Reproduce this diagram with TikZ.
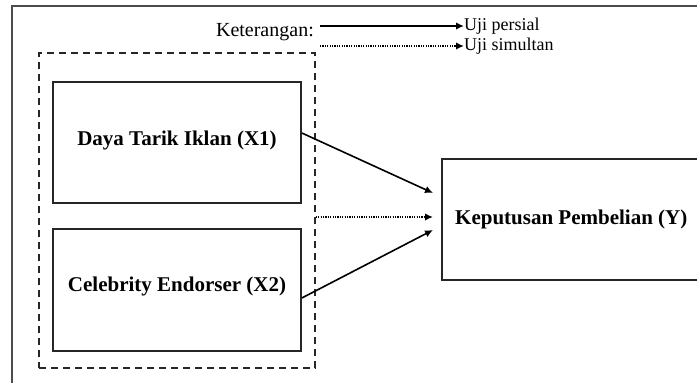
\documentclass[tikz,border=0pt]{standalone}
\usepackage{fontspec}
\setmainfont{Liberation Serif}
\usetikzlibrary{arrows.meta,calc}
\begin{document}
\begin{tikzpicture}[x=1pt,y=-1pt,
  box/.style={draw=black!85,line width=1.7pt,rectangle,inner sep=0pt},
  grpbox/.style={draw=black!85,line width=1.7pt,dash pattern=on 7pt off 5pt,rectangle,inner sep=0pt},
  lbl/.style={font=\fontsize{21}{25}\selectfont\bfseries,inner sep=0pt},
  leg/.style={font=\fontsize{20}{23}\selectfont,inner sep=0pt},
  legs/.style={font=\fontsize{18}{21}\selectfont,inner sep=0pt},
  arr/.style={line width=1.6pt,-{Latex[length=8pt,width=7.5pt]}},
  dotarr/.style={line width=1.6pt,dash pattern=on 1.2pt off 1.2pt,-{Latex[length=8pt,width=7.5pt]}}]
\clip (0,0) rectangle (697,383);
\fill[white] (0,0) rectangle (697,383);
% outer frame (extends beyond picture)
\draw[line width=1.8pt,black!70] (12,400) -- (12,6) -- (720,6);
% legend
\node[leg,anchor=base east] (ket) at (314,36) {Keterangan:};
\coordinate (ls1) at (320,26);
\coordinate (ls2) at (320,46);
\node[legs,anchor=base west] (up) at (464,30) {Uji persial};
\node[legs,anchor=base west] (us) at (464,50) {Uji simultan};
\draw[arr] (ls1) -- (ls1 -| up.west);
\draw[dotarr] (ls2) -- (ls2 -| us.west);
% group box
\node[grpbox,minimum width=276pt,minimum height=315pt] (grp) at (177,210.5) {};
% variable boxes
\node[box,minimum width=248pt,minimum height=121pt] (x1) at (177,142.5) {};
\node[lbl] (x1t) at (177,140) {Daya Tarik Iklan (X1)};
\node[box,minimum width=248pt,minimum height=122pt] (x2) at (177,290) {};
\node[lbl] (x2t) at (177,286) {Celebrity Endorser (X2)};
\node[box,minimum width=290pt,minimum height=121pt,anchor=west] (y) at (441,219.5) {};
\node[lbl,anchor=west] (yt) at (455,219) {Keputusan Pembelian (Y)};
% connectors
\draw[arr] ($(x1.east)+(0,-9.5)$) -- ($(y.west)+(-8,-26.5)$);
\draw[arr] ($(x2.east)+(0,8)$) -- ($(y.west)+(-8,10.5)$);
\draw[dotarr] ($(grp.east)+(0,6.5)$) -- ($(y.west)+(-8,-2.5)$);
\end{tikzpicture}
\end{document}
